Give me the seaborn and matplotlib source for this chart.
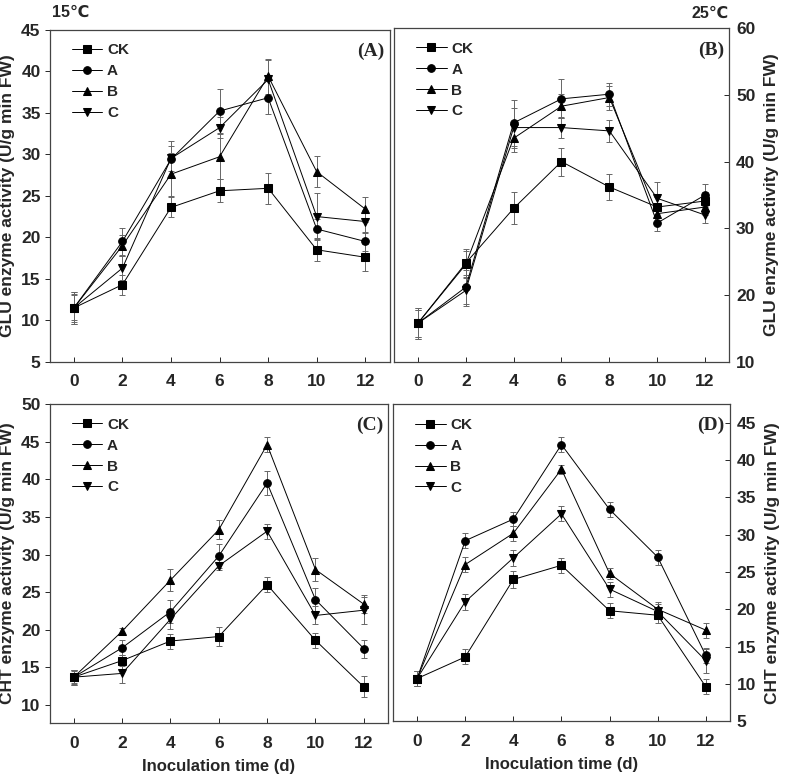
import numpy as np
import pandas as pd
import matplotlib
matplotlib.use('Agg')
import matplotlib.pyplot as plt
import seaborn as sns

sns.set_style('ticks')
plt.rcParams['font.family'] = ['Liberation Sans', 'DejaVu Sans']
plt.rcParams['font.weight'] = 'bold'

days = [0, 2, 4, 6, 8, 10, 12]
groups = ['CK', 'A', 'B', 'C']
markers = {'CK': 's', 'A': 'o', 'B': '^', 'C': 'v'}

# GLU 15 C
glu15 = {
    'CK': [11.5, 14.3, 23.6, 25.6, 25.9, 18.5, 17.6],
    'A':  [11.5, 19.5, 29.4, 35.2, 36.8, 21.0, 19.5],
    'B':  [11.5, 19.0, 27.6, 29.7, 39.4, 27.9, 23.4],
    'C':  [11.5, 16.3, 29.5, 33.2, 39.0, 22.5, 21.9],
}
glu15_err = {
    'CK': [1.9, 1.2, 1.2, 1.4, 1.9, 1.4, 1.6],
    'A':  [1.9, 1.6, 2.2, 2.6, 2.0, 1.2, 1.2],
    'B':  [1.7, 1.3, 2.6, 2.7, 2.1, 1.9, 1.5],
    'C':  [1.5, 1.4, 1.5, 1.3, 2.3, 2.8, 1.4],
}
# GLU 25 C
glu25 = {
    'CK': [15.8, 24.8, 33.0, 40.0, 36.2, 33.2, 34.1],
    'A':  [15.8, 21.2, 45.8, 49.4, 50.1, 30.8, 35.0],
    'B':  [15.8, 24.6, 43.5, 48.3, 49.6, 32.2, 33.2],
    'C':  [15.8, 20.7, 45.1, 45.1, 44.6, 34.5, 32.0],
}
glu25_err = {
    'CK': [2.3, 2.1, 2.4, 2.1, 2.0, 1.5, 1.3],
    'A':  [2.3, 2.6, 3.4, 2.9, 1.7, 1.2, 1.7],
    'B':  [2.0, 2.0, 2.0, 1.8, 1.8, 1.2, 1.2],
    'C':  [2.0, 2.3, 3.0, 1.6, 1.6, 2.4, 1.2],
}
# CHT 15 C
cht15 = {
    'CK': [13.7, 15.9, 18.5, 19.1, 26.0, 18.6, 12.4],
    'A':  [13.7, 17.6, 22.4, 29.8, 39.5, 24.0, 17.5],
    'B':  [13.7, 19.8, 26.6, 33.3, 44.6, 28.0, 23.4],
    'C':  [13.7, 14.2, 21.4, 28.5, 33.1, 21.9, 22.6],
}
cht15_err = {
    'CK': [0.9, 0.7, 1.0, 1.3, 1.0, 1.0, 1.4],
    'A':  [1.0, 1.0, 1.5, 1.6, 1.6, 1.5, 1.2],
    'B':  [1.0, 0.5, 1.5, 1.3, 1.0, 1.5, 1.2],
    'C':  [0.8, 1.3, 1.3, 0.5, 1.0, 1.2, 1.8],
}
# CHT 25 C
cht25 = {
    'CK': [10.7, 13.6, 24.0, 25.9, 19.8, 19.2, 9.6],
    'A':  [10.7, 29.2, 32.1, 42.1, 33.4, 27.0, 13.8],
    'B':  [10.7, 26.0, 30.2, 38.8, 24.8, 20.0, 17.2],
    'C':  [10.7, 21.0, 26.9, 32.8, 22.7, 19.7, 13.1],
}
cht25_err = {
    'CK': [1.0, 1.0, 1.2, 1.0, 1.0, 1.0, 1.0],
    'A':  [1.0, 1.0, 0.9, 1.0, 1.0, 1.0, 1.0],
    'B':  [1.0, 1.0, 1.0, 0.6, 0.8, 1.0, 1.0],
    'C':  [1.0, 1.1, 1.1, 1.0, 1.0, 1.0, 1.6],
}

glu_label = 'GLU enzyme activity (U/g min FW)'
cht_label = 'CHT enzyme activity (U/g min FW)'

panels = [
    # data, err, rect, ylim, yticks, tag, ylabel, right axis, xlabel
    (glu15, glu15_err, [0.063, 0.536, 0.432, 0.426], (5, 45), range(5, 46, 5), '(A)', glu_label, False, False),
    (glu25, glu25_err, [0.5006, 0.536, 0.4257, 0.428], (10, 60), range(10, 61, 10), '(B)', glu_label, True, False),
    (cht15, cht15_err, [0.063, 0.073, 0.430, 0.409], (7.6, 50), range(10, 51, 5), '(C)', cht_label, False, True),
    (cht25, cht25_err, [0.4994, 0.0756, 0.428, 0.406], (5, 47.5), range(5, 46, 5), '(D)', cht_label, True, True),
]

fig = plt.figure(figsize=(7.87, 7.80), dpi=100)

for data, err, rect, ylim, yticks, tag, ylab, right, xlab in panels:
    ax = fig.add_axes(rect)
    df = pd.DataFrame([(d, g, v) for g in groups for d, v in zip(days, data[g])],
                      columns=['day', 'group', 'value'])
    for g in groups:
        ax.errorbar(days, data[g], yerr=err[g], fmt='none', ecolor='#666666',
                    elinewidth=0.7, capsize=2.5, capthick=0.7, zorder=1)
    sns.lineplot(data=df, x='day', y='value', hue='group', style='group',
                 hue_order=groups, style_order=groups,
                 palette=['black'] * 4, markers=markers, dashes=False,
                 markersize=5.5, markeredgecolor='black', linewidth=0.7,
                 ax=ax, zorder=3)
    ax.set_xlim(-1, 13)
    ax.set_ylim(*ylim)
    ax.set_xticks(days)
    ax.set_yticks(list(yticks))
    ax.tick_params(axis='x', labelsize=12.5, width=0.7, length=3.5, direction='in', pad=9)
    ax.tick_params(axis='y', labelsize=12.5, width=0.7, length=3.5,
                   direction='in' if right else 'out', pad=3 if not right else 5)
    for lbl in ax.get_xticklabels() + ax.get_yticklabels():
        lbl.set_fontweight('bold')
    for s in ax.spines.values():
        s.set_linewidth(0.9)
        s.set_color('#444444')
    if right:
        ax.yaxis.tick_right()
        ax.yaxis.set_label_position('right')
    ax.set_ylabel(ylab, fontsize=12.5, fontweight='bold', labelpad=6 if right else 4)
    if xlab:
        ax.set_xlabel('Inoculation time (d)', fontsize=12, fontweight='bold', labelpad=6)
    else:
        ax.set_xlabel('')
    ax.text(0.985, 0.96, tag, transform=ax.transAxes, ha='right', va='top',
            fontsize=14, fontweight='bold', family=['Liberation Serif'])
    leg = ax.legend(loc='upper left', frameon=False, fontsize=11, handlelength=2.0,
                    handletextpad=0.3, labelspacing=0.45, borderaxespad=0.6,
                    borderpad=0.3)
    leg.set_bbox_to_anchor((0.025, 1.0), transform=ax.transAxes)
    for t in leg.get_texts():
        t.set_fontweight('bold')

fig.text(0.066, 0.984, '15\u2103', fontsize=11.5, fontweight='bold',
         family=['Liberation Sans', 'DejaVu Sans'], va='center')
fig.text(0.879, 0.983, '25\u2103', fontsize=11.5, fontweight='bold',
         family=['Liberation Sans', 'DejaVu Sans'], va='center')

fig.savefig('out.png', dpi=100)
